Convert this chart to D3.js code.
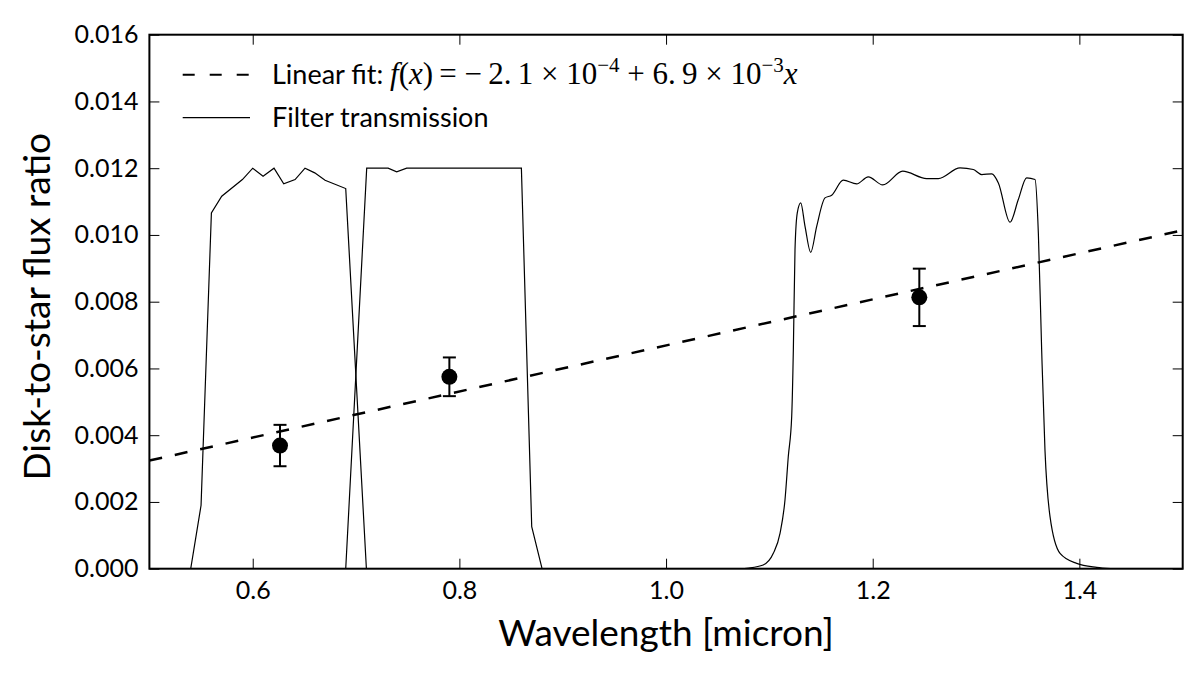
<!DOCTYPE html>
<html>
<head>
<meta charset="utf-8">
<script src="https://cdn.jsdelivr.net/npm/d3@7"></script>
<style>
  body { margin: 0; background: #fff; }
  svg text { font-family: Lato, "Open Sans", sans-serif; fill: #000; }
  .math { font-family: "Liberation Serif", "DejaVu Serif", serif; }
</style>
</head>
<body>
<div id="chart"></div>
<script>
// axis ticks
var xTicks = [0.6, 0.8, 1.0, 1.2, 1.4];
var yTicks = [0, 0.002, 0.004, 0.006, 0.008, 0.010, 0.012, 0.014, 0.016];

// measured disk-to-star ratios
var obsWave = [0.6264, 0.7903, 1.2451];
var obsRatio = [0.00369, 0.00575, 0.00813];
var obsErr = [0.00062, 0.00058, 0.00086];

// linear fit coefficients (from legend)
var fitIntercept = -2.1e-4;
var fitSlope = 6.9e-3;

// filter transmission curves, scaled to peak 0.012
var filter1Wave = [0.540, 0.550, 0.560, 0.570, 0.590, 0.600, 0.610, 0.6206, 0.630, 0.641, 0.6506, 0.660, 0.670, 0.690, 0.710];
var filter1Trans = [0, 0.0019, 0.01066, 0.01116, 0.01166, 0.0120, 0.01176, 0.0120, 0.01153, 0.01166, 0.0120, 0.01186, 0.01164, 0.01139, 0];

var filter2Wave = [0.690, 0.7103, 0.731, 0.7393, 0.749, 0.860, 0.870, 0.880];
var filter2Trans = [0, 0.0120, 0.0120, 0.01189, 0.0120, 0.0120, 0.00126, 0];

var filter3Wave = [1.070, 1.080, 1.094, 1.1038, 1.1103, 1.1151, 1.1183, 1.1216, 1.1232, 1.1248, 1.127, 1.1303,
  1.1345, 1.140, 1.1458, 1.1538, 1.1603, 1.1715, 1.1845, 1.1957, 1.2097, 1.229, 1.2522, 1.2635, 1.2845, 1.2974,
  1.3055, 1.3152, 1.3216, 1.3329, 1.3409, 1.349, 1.3571, 1.3603, 1.3635, 1.3667, 1.3716, 1.3813, 1.3974, 1.4168, 1.430];
var filter3Trans = [0, 0.00002, 0.00011, 0.00046, 0.00106, 0.00206, 0.00336, 0.00456, 0.00656, 0.00956, 0.01066, 0.01096,
  0.01026, 0.00948, 0.01026, 0.01111, 0.01119, 0.01164, 0.01153, 0.01174, 0.0115, 0.01191, 0.01169, 0.01169, 0.01201, 0.01196,
  0.01181, 0.01183, 0.01156, 0.01038, 0.01106, 0.01171, 0.01166, 0.01006, 0.00656, 0.00356, 0.00156, 0.00046, 0.00016, 0.00004, 0];

var W = 1200, H = 675;
var margin = {top: 34.7, right: 17.3, bottom: 106.3, left: 149.4},
    width = W - margin.left - margin.right,
    height = H - margin.top - margin.bottom;

var svg = d3.select("#chart").append("svg")
    .attr("width", W)
    .attr("height", H);

var g = svg.append("g")
    .attr("transform", "translate(" + margin.left + "," + margin.top + ")");

var x = d3.scaleLinear().domain([0.5, 1.5]).range([0, width]);
var y = d3.scaleLinear().domain([0, 0.016]).range([height, 0]);

g.append("clipPath").attr("id", "clip")
  .append("rect").attr("width", width).attr("height", height);

var plot = g.append("g").attr("clip-path", "url(#clip)");

// filter curves
var lineLin = d3.line().x(function(d) { return x(d[0]); }).y(function(d) { return y(d[1]); });
var lineSmooth = d3.line().curve(d3.curveMonotoneX)
    .x(function(d) { return x(d[0]); }).y(function(d) { return y(d[1]); });

[[filter1Wave, filter1Trans, lineLin], [filter2Wave, filter2Trans, lineLin], [filter3Wave, filter3Trans, lineSmooth]]
  .forEach(function(f) {
    var pts = f[0].map(function(w, i) { return [w, f[1][i]]; });
    plot.append("path")
      .attr("d", f[2](pts))
      .attr("fill", "none")
      .attr("stroke", "#000")
      .attr("stroke-width", 1.2);
  });

// linear fit
var fitPts = x.domain().map(function(w) { return [w, fitIntercept + fitSlope * w]; });
plot.append("path")
  .attr("d", lineLin(fitPts))
  .attr("fill", "none")
  .attr("stroke", "#000")
  .attr("stroke-width", 2.5)
  .attr("stroke-dasharray", "13,13");

// error bars + markers
var obs = obsWave.map(function(w, i) { return {w: w, r: obsRatio[i], e: obsErr[i]}; });
var eb = plot.append("g").selectAll("g").data(obs).enter().append("g");
eb.append("line")
  .attr("x1", function(d) { return x(d.w); }).attr("x2", function(d) { return x(d.w); })
  .attr("y1", function(d) { return y(d.r - d.e); }).attr("y2", function(d) { return y(d.r + d.e); })
  .attr("stroke", "#000").attr("stroke-width", 2);
[-1, 1].forEach(function(s) {
  eb.append("line")
    .attr("x1", function(d) { return x(d.w) - 6.5; }).attr("x2", function(d) { return x(d.w) + 6.5; })
    .attr("y1", function(d) { return y(d.r + s * d.e); }).attr("y2", function(d) { return y(d.r + s * d.e); })
    .attr("stroke", "#000").attr("stroke-width", 2);
});
eb.append("circle")
  .attr("cx", function(d) { return x(d.w); })
  .attr("cy", function(d) { return y(d.r); })
  .attr("r", 8)
  .attr("fill", "#000");

// axes: ticks inward on all sides
var tickLen = 10;
var xb = g.append("g").attr("transform", "translate(0," + height + ")")
    .call(d3.axisBottom(x).tickValues(xTicks).tickSizeInner(-tickLen).tickSizeOuter(0).tickPadding(13).tickFormat(d3.format(".1f")));
var xt = g.append("g")
    .call(d3.axisTop(x).tickValues(xTicks).tickSizeInner(-tickLen).tickSizeOuter(0).tickFormat(""));
var yl = g.append("g")
    .call(d3.axisLeft(y).tickValues(yTicks).tickSizeInner(-tickLen).tickSizeOuter(0).tickPadding(11).tickFormat(d3.format(".3f")));
var yr = g.append("g").attr("transform", "translate(" + width + ",0)")
    .call(d3.axisRight(y).tickValues(yTicks).tickSizeInner(-tickLen).tickSizeOuter(0).tickFormat(""));

[xb, xt, yl, yr].forEach(function(a) {
  a.select(".domain").remove();
  a.selectAll(".tick line").attr("stroke", "#000").attr("stroke-width", 1);
  a.selectAll(".tick text").attr("font-size", 25).attr("font-family", "Lato, sans-serif").attr("fill", "#000");
});
xb.selectAll(".tick text").attr("dy", "0.71em");

g.append("rect")
  .attr("width", width).attr("height", height)
  .attr("fill", "none").attr("stroke", "#000").attr("stroke-width", 2);

// axis labels
svg.append("text")
  .attr("x", margin.left + width / 2).attr("y", 646)
  .attr("text-anchor", "middle").attr("font-size", 37)
  .text("Wavelength [micron]");
svg.append("text")
  .attr("transform", "translate(50," + (margin.top + height / 2 + 5) + ") rotate(-90)")
  .attr("text-anchor", "middle").attr("font-size", 37)
  .text("Disk-to-star flux ratio");

// legend
var leg = svg.append("g");
leg.append("line").attr("x1", 182.7).attr("x2", 250).attr("y1", 74.7).attr("y2", 74.7)
  .attr("stroke", "#000").attr("stroke-width", 2).attr("stroke-dasharray", "12,15");
leg.append("line").attr("x1", 182.7).attr("x2", 250).attr("y1", 117.7).attr("y2", 117.7)
  .attr("stroke", "#000").attr("stroke-width", 1.2);

var t1 = leg.append("text").attr("x", 272).attr("y", 84).attr("font-size", 27);
t1.append("tspan").text("Linear fit: ");
var m = t1.append("tspan").attr("class", "math").attr("font-size", 31);
m.append("tspan").attr("font-style", "italic").text("f");
m.append("tspan").text("(");
m.append("tspan").attr("font-style", "italic").text("x");
m.append("tspan").text(")\u2009= \u2212\u20092.\u20091 \u00d7 10");
m.append("tspan").attr("font-size", 21).attr("dy", -12).text("\u22124");
m.append("tspan").attr("dy", 12).text(" + 6.\u20099 \u00d7 10");
m.append("tspan").attr("font-size", 21).attr("dy", -12).text("\u22123");
m.append("tspan").attr("dy", 12).attr("font-style", "italic").text("x");

leg.append("text").attr("x", 272).attr("y", 127).attr("font-size", 27).text("Filter transmission");
</script>
</body>
</html>
